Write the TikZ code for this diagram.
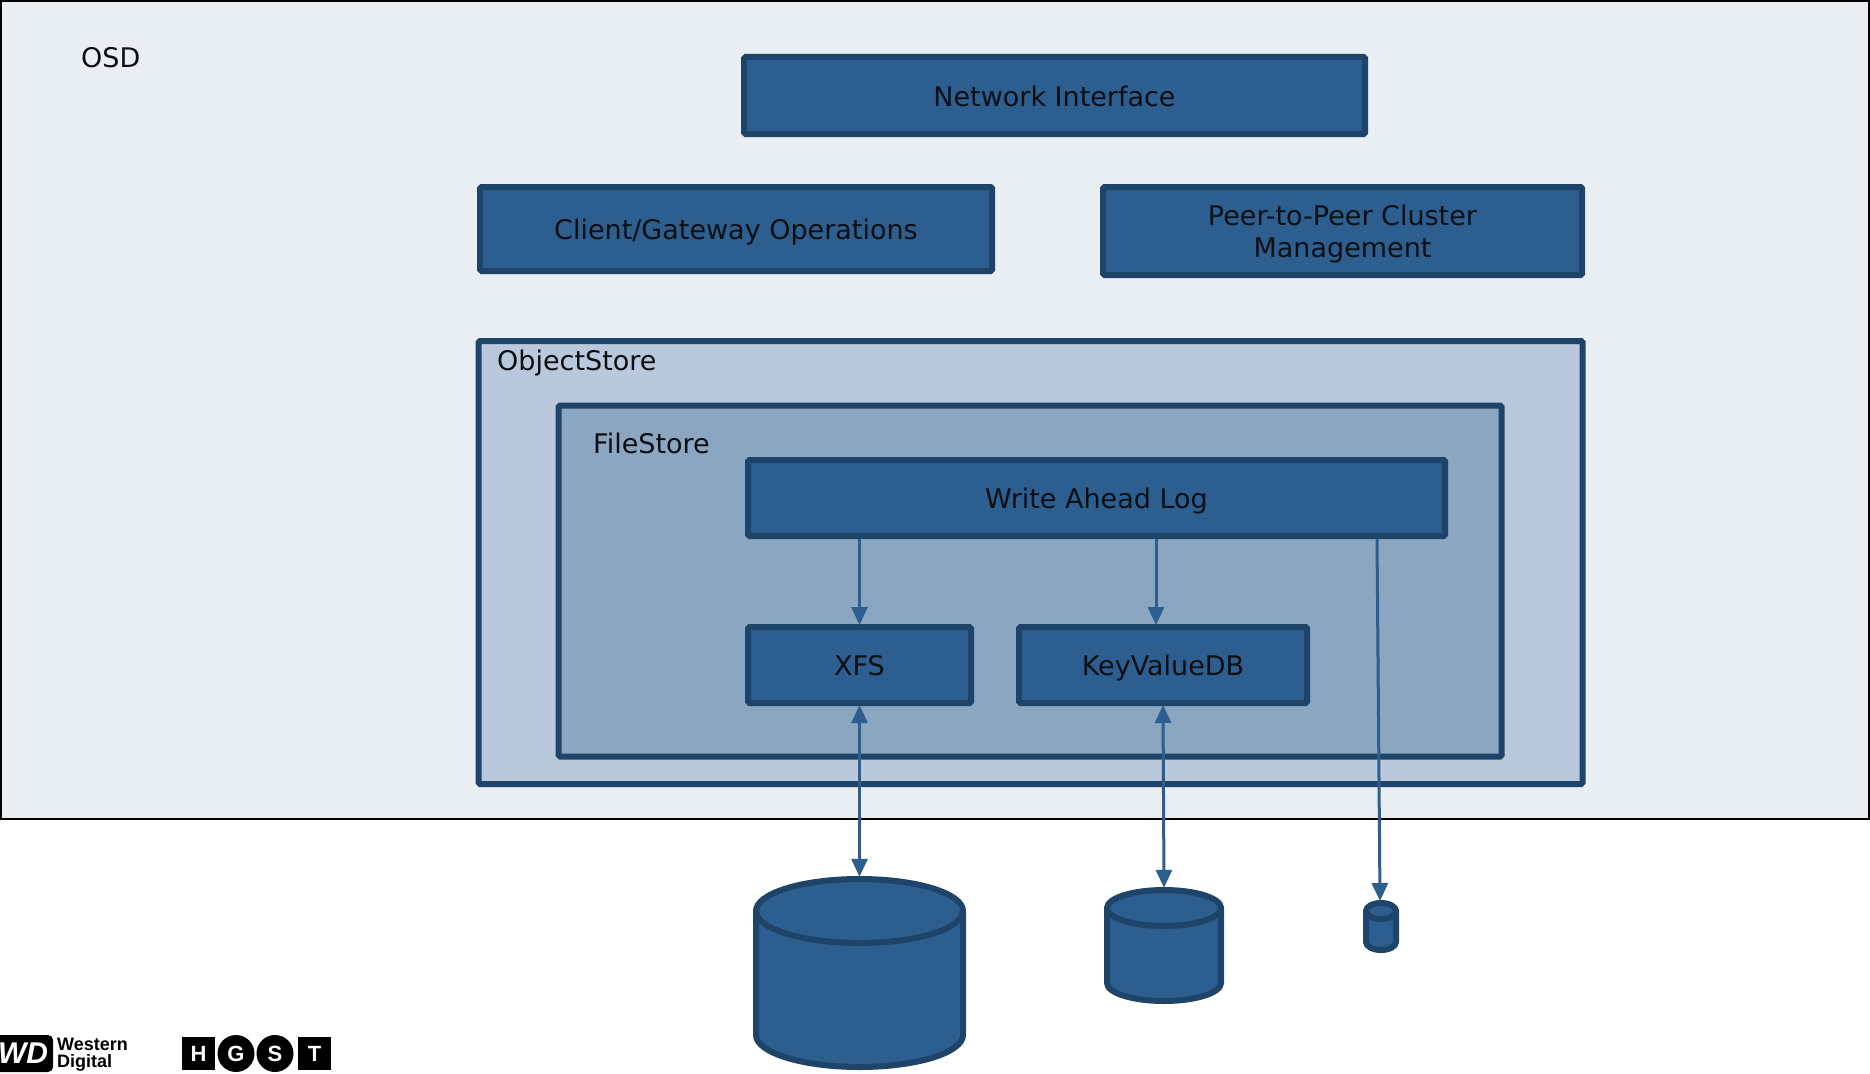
\documentclass[tikz,border=0pt]{standalone}
\usepackage{fontspec}
\setmainfont{DejaVu Sans}
\newfontfamily\logofont{Liberation Sans}
\usetikzlibrary{arrows.meta,calc}
\definecolor{osdfill}{HTML}{E9EEF3}
\definecolor{objfill}{HTML}{B9C9DB}
\definecolor{filefill}{HTML}{8BA6C1}
\definecolor{boxfill}{HTML}{2C5F8F}
\definecolor{boxline}{HTML}{1F4469}
\definecolor{txt}{HTML}{0B0F14}
\newcommand{\sln}{\rule[-5.5pt]{0pt}{32pt}}
\tikzset{
  x=1pt,y=-1pt,
  labeltext/.style={font=\fontsize{27}{32}\selectfont,text=txt,inner sep=0pt,align=center},
  container/.style={draw=boxline,line width=6pt,rounded corners=1.5pt},
  blockbox/.style={draw=boxline,fill=boxfill,line width=6pt,inner sep=0pt,rounded corners=1.5pt},
  link/.style={draw=boxfill,line width=3pt,shorten >=-1pt,-{Triangle[length=18pt,width=16pt]}},
  biglink/.style={link,shorten <=-1pt,{Triangle[length=18pt,width=16pt]}-{Triangle[length=18pt,width=16pt]}},
  diskbody/.style={draw=boxline,fill=boxfill,line width=6pt,line join=round},
  logoname/.style={font=\logofont\bfseries\fontsize{18}{17}\selectfont,text=black,inner sep=0pt,align=left},
  logoletter/.style={font=\logofont\bfseries\fontsize{22}{22}\selectfont,text=white,inner sep=0pt},
}
\newcommand{\boxnode}[6]{% name, x1, y1, x2, y2, text
  \node[blockbox,labeltext,minimum width=#4pt-#2pt-6pt,minimum height=#5pt-#3pt-6pt] (#1) at ({(#2+#4)/2},{(#3+#5)/2}) {#6};
}
\newcommand{\disknode}[6]{% name, x1, x2, top, bottom, ry
  \path[diskbody] (#2+3,#4+3+#6) -- (#2+3,#5-3-#6)
     arc[start angle=180,end angle=0,x radius={(#3-#2-6)/2},y radius=#6]
     -- (#3-3,#4+3+#6) -- cycle;
  \path[diskbody] ({(#2+#3)/2},#4+3+#6) ellipse[x radius={(#3-#2-6)/2},y radius=#6];
  \node[inner sep=0pt,minimum width=#3pt-#2pt,minimum height=#5pt-#4pt] (#1) at ({(#2+#3)/2},{(#4+#5)/2}) {};
}
\begin{document}
\begin{tikzpicture}
\useasboundingbox (0,0) rectangle (1870,1073);
\clip (0,0) rectangle (1870,1073);
% containers
\node[draw=black,fill=osdfill,line width=2pt,minimum width=1868pt,minimum height=818pt,inner sep=0pt] (osd) at (935,410) {};
\node[labeltext,anchor=west] (osdlabel) at (81,58) {OSD};
\node[container,fill=objfill,minimum width=1104pt,minimum height=443pt,inner sep=0pt] (objstore) at (1030.5,562.5) {};
\node[labeltext,anchor=west] (objlabel) at (497,363.5) {ObjectStore};
\node[container,fill=filefill,minimum width=943pt,minimum height=351pt,inner sep=0pt] (filestore) at (1030,581) {};
\node[labeltext,anchor=west] (filelabel) at (593,443) {FileStore};
% blocks
\boxnode{net}{741}{54}{1368}{137}{\sln Network Interface}
\boxnode{client}{477}{184}{995}{274}{\sln Client/Gateway Operations}
\boxnode{peer}{1100}{184}{1585}{278}{\sln Peer-to-Peer Cluster\\\sln Management}
\boxnode{wal}{745}{457}{1448}{539}{\sln Write Ahead Log}
\boxnode{xfs}{745}{624}{974}{706}{\sln XFS}
\boxnode{kv}{1016}{624}{1310}{706}{\sln KeyValueDB}
% disks
\disknode{bigdisk}{753}{966}{876}{1070}{32}
\disknode{meddisk}{1104}{1224}{887}{1004}{18}
\disknode{smalldisk}{1363}{1399}{900}{953}{8}
% connectors
\coordinate (walkv) at (1156,539);
\coordinate (walsmall) at (1377,539);
\coordinate (smalltop) at (1380,900);
\draw[link] (wal.south -| xfs.north) -- (xfs.north);
\draw[link] (walkv) -- (walkv |- kv.north);
\draw[link] (walsmall) -- (smalltop);
\draw[biglink] (xfs.south) -- (bigdisk.north);
\draw[biglink] (kv.south) -- (meddisk.north);
% logos
\node[fill=black,rounded corners=5pt,minimum width=60pt,minimum height=37pt,inner sep=0pt] (wdmark) at (23,1053.5) {};
\node[font=\logofont\bfseries\itshape\fontsize{30}{30}\selectfont,text=white,inner sep=0pt] (wdtext) at (23,1053.5) {WD};
\node[logoname,anchor=west] (wdname) at (57,1055) {Western\\Digital};
\node[fill=black,minimum size=33pt,inner sep=0pt,logoletter] (hmark) at (198.5,1053.5) {H};
\node[fill=black,circle,minimum size=37pt,inner sep=0pt,logoletter] (gmark) at (236,1053.5) {G};
\node[fill=black,circle,minimum size=37pt,inner sep=0pt,logoletter] (smark) at (275,1053.5) {S};
\node[fill=black,minimum size=33pt,inner sep=0pt,logoletter] (tmark) at (314.5,1053.5) {T};
\end{tikzpicture}
\end{document}
